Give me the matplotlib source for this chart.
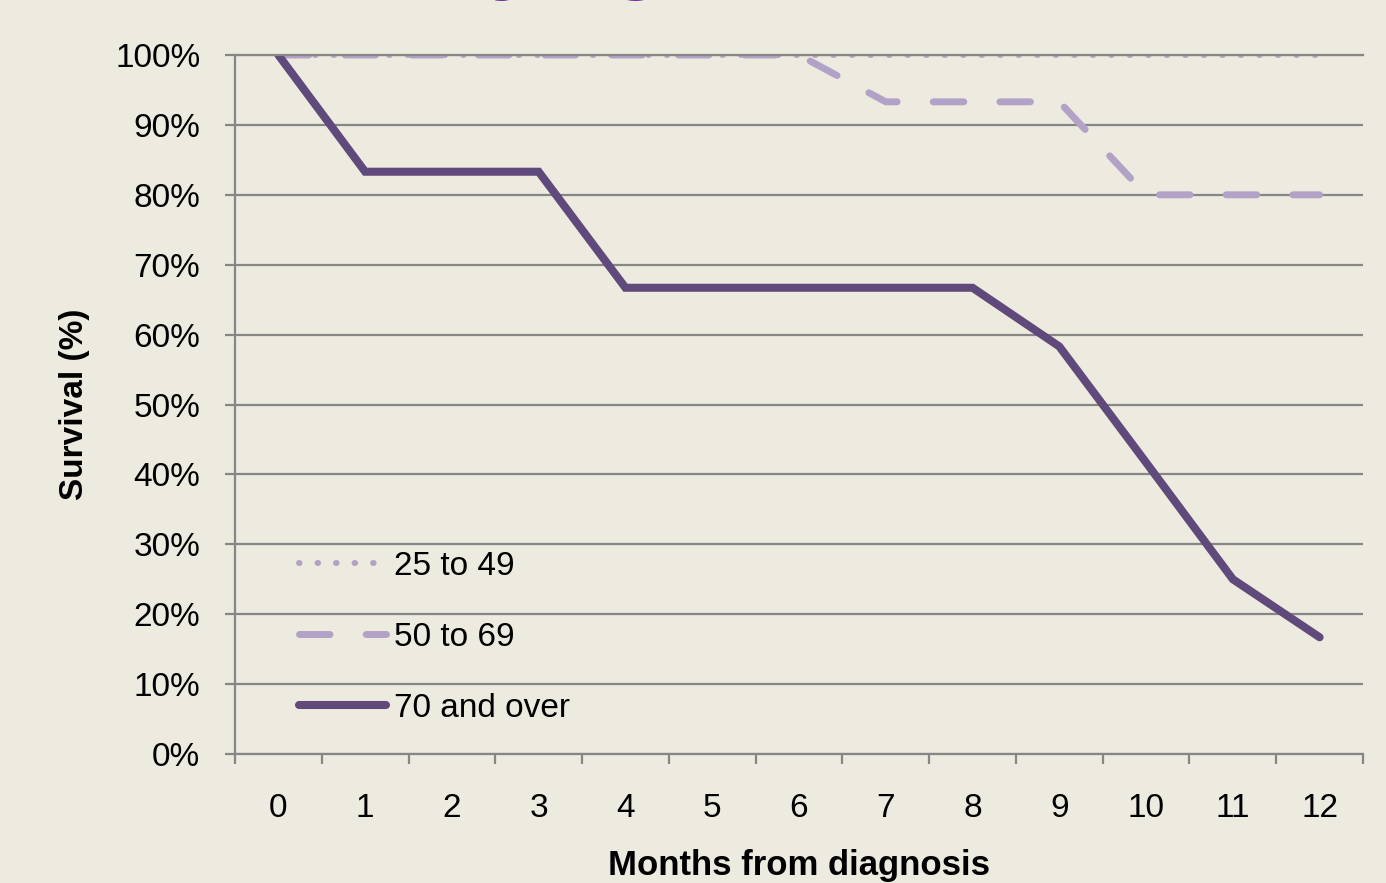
import matplotlib.pyplot as plt
from matplotlib.ticker import FixedLocator, PercentFormatter

# survival by age group, months 0-12
months = list(range(13))
age_25_49 = [100, 100, 100, 100, 100, 100, 100, 100, 100, 100, 100, 100, 100]
age_50_69 = [100, 100, 100, 100, 100, 100, 100, 93.3, 93.3, 93.3, 80, 80, 80]
age_70_plus = [100, 83.3, 83.3, 83.3, 66.7, 66.7, 66.7, 66.7, 66.7, 58.3, 41.7, 25, 16.7]

bg = '#EDEADF'
light = '#B3A2C7'
dark = '#604A7B'
grid_col = '#868686'

plt.rcParams['font.family'] = ['Liberation Sans', 'DejaVu Sans']

fig = plt.figure(figsize=(13.86, 8.83), dpi=100, facecolor=bg)
ax = fig.add_axes([235 / 1386, 1 - 754 / 883, 1128 / 1386, 699 / 883])
ax.set_facecolor(bg)

# title sits mostly above the visible area, only descenders peek in
fig.text(0.285, 1.0 + 17 / 883, 'Survival by age', color='#7030A0', fontsize=62,
         fontweight='bold', ha='center', va='baseline')

ax.yaxis.grid(True, color=grid_col, linewidth=1.6, zorder=0)
ax.set_axisbelow(True)

ax.plot(months, age_25_49, color=light, linewidth=4.3, linestyle=(0, (0.1, 3.0)),
        dash_capstyle='round', label='25 to 49', zorder=3)
ax.plot(months, age_50_69, color=light, linewidth=5, linestyle=(0, (4.4, 5.2)),
        dash_capstyle='round', label='50 to 69', zorder=3)
ax.plot(months, age_70_plus, color=dark, linewidth=5.8, solid_capstyle='round',
        solid_joinstyle='miter', label='70 and over', zorder=4)

ax.set_xlim(-0.5, 12.5)
ax.set_ylim(0, 100)
ax.set_yticks(range(0, 101, 10))
ax.yaxis.set_major_formatter(PercentFormatter(decimals=0))
ax.set_xticks(months)
ax.xaxis.set_minor_locator(FixedLocator([m + 0.5 for m in range(-1, 13)]))
ax.tick_params(axis='x', which='major', length=0, pad=28, labelsize=24)
ax.tick_params(axis='x', which='minor', length=7, width=1.6, color=grid_col, direction='out')
ax.tick_params(axis='y', length=7, width=1.6, color=grid_col, pad=18, labelsize=24)

ax.spines['right'].set_visible(False)
for s in ['left', 'bottom', 'top']:
    ax.spines[s].set_color(grid_col)
    ax.spines[s].set_linewidth(1.6)
ax.spines['top'].set_zorder(5)

ax.set_xlabel('Months from diagnosis', fontsize=25, fontweight='bold', labelpad=18)
ax.set_ylabel('Survival (%)', fontsize=24, fontweight='bold', labelpad=18)

leg = ax.legend(loc='lower left', bbox_to_anchor=(0.03, 0.0), frameon=False,
                fontsize=24, handlelength=2.6, handletextpad=0.25, labelspacing=1.2)

fig.savefig('out.png', dpi=100, facecolor=bg)
